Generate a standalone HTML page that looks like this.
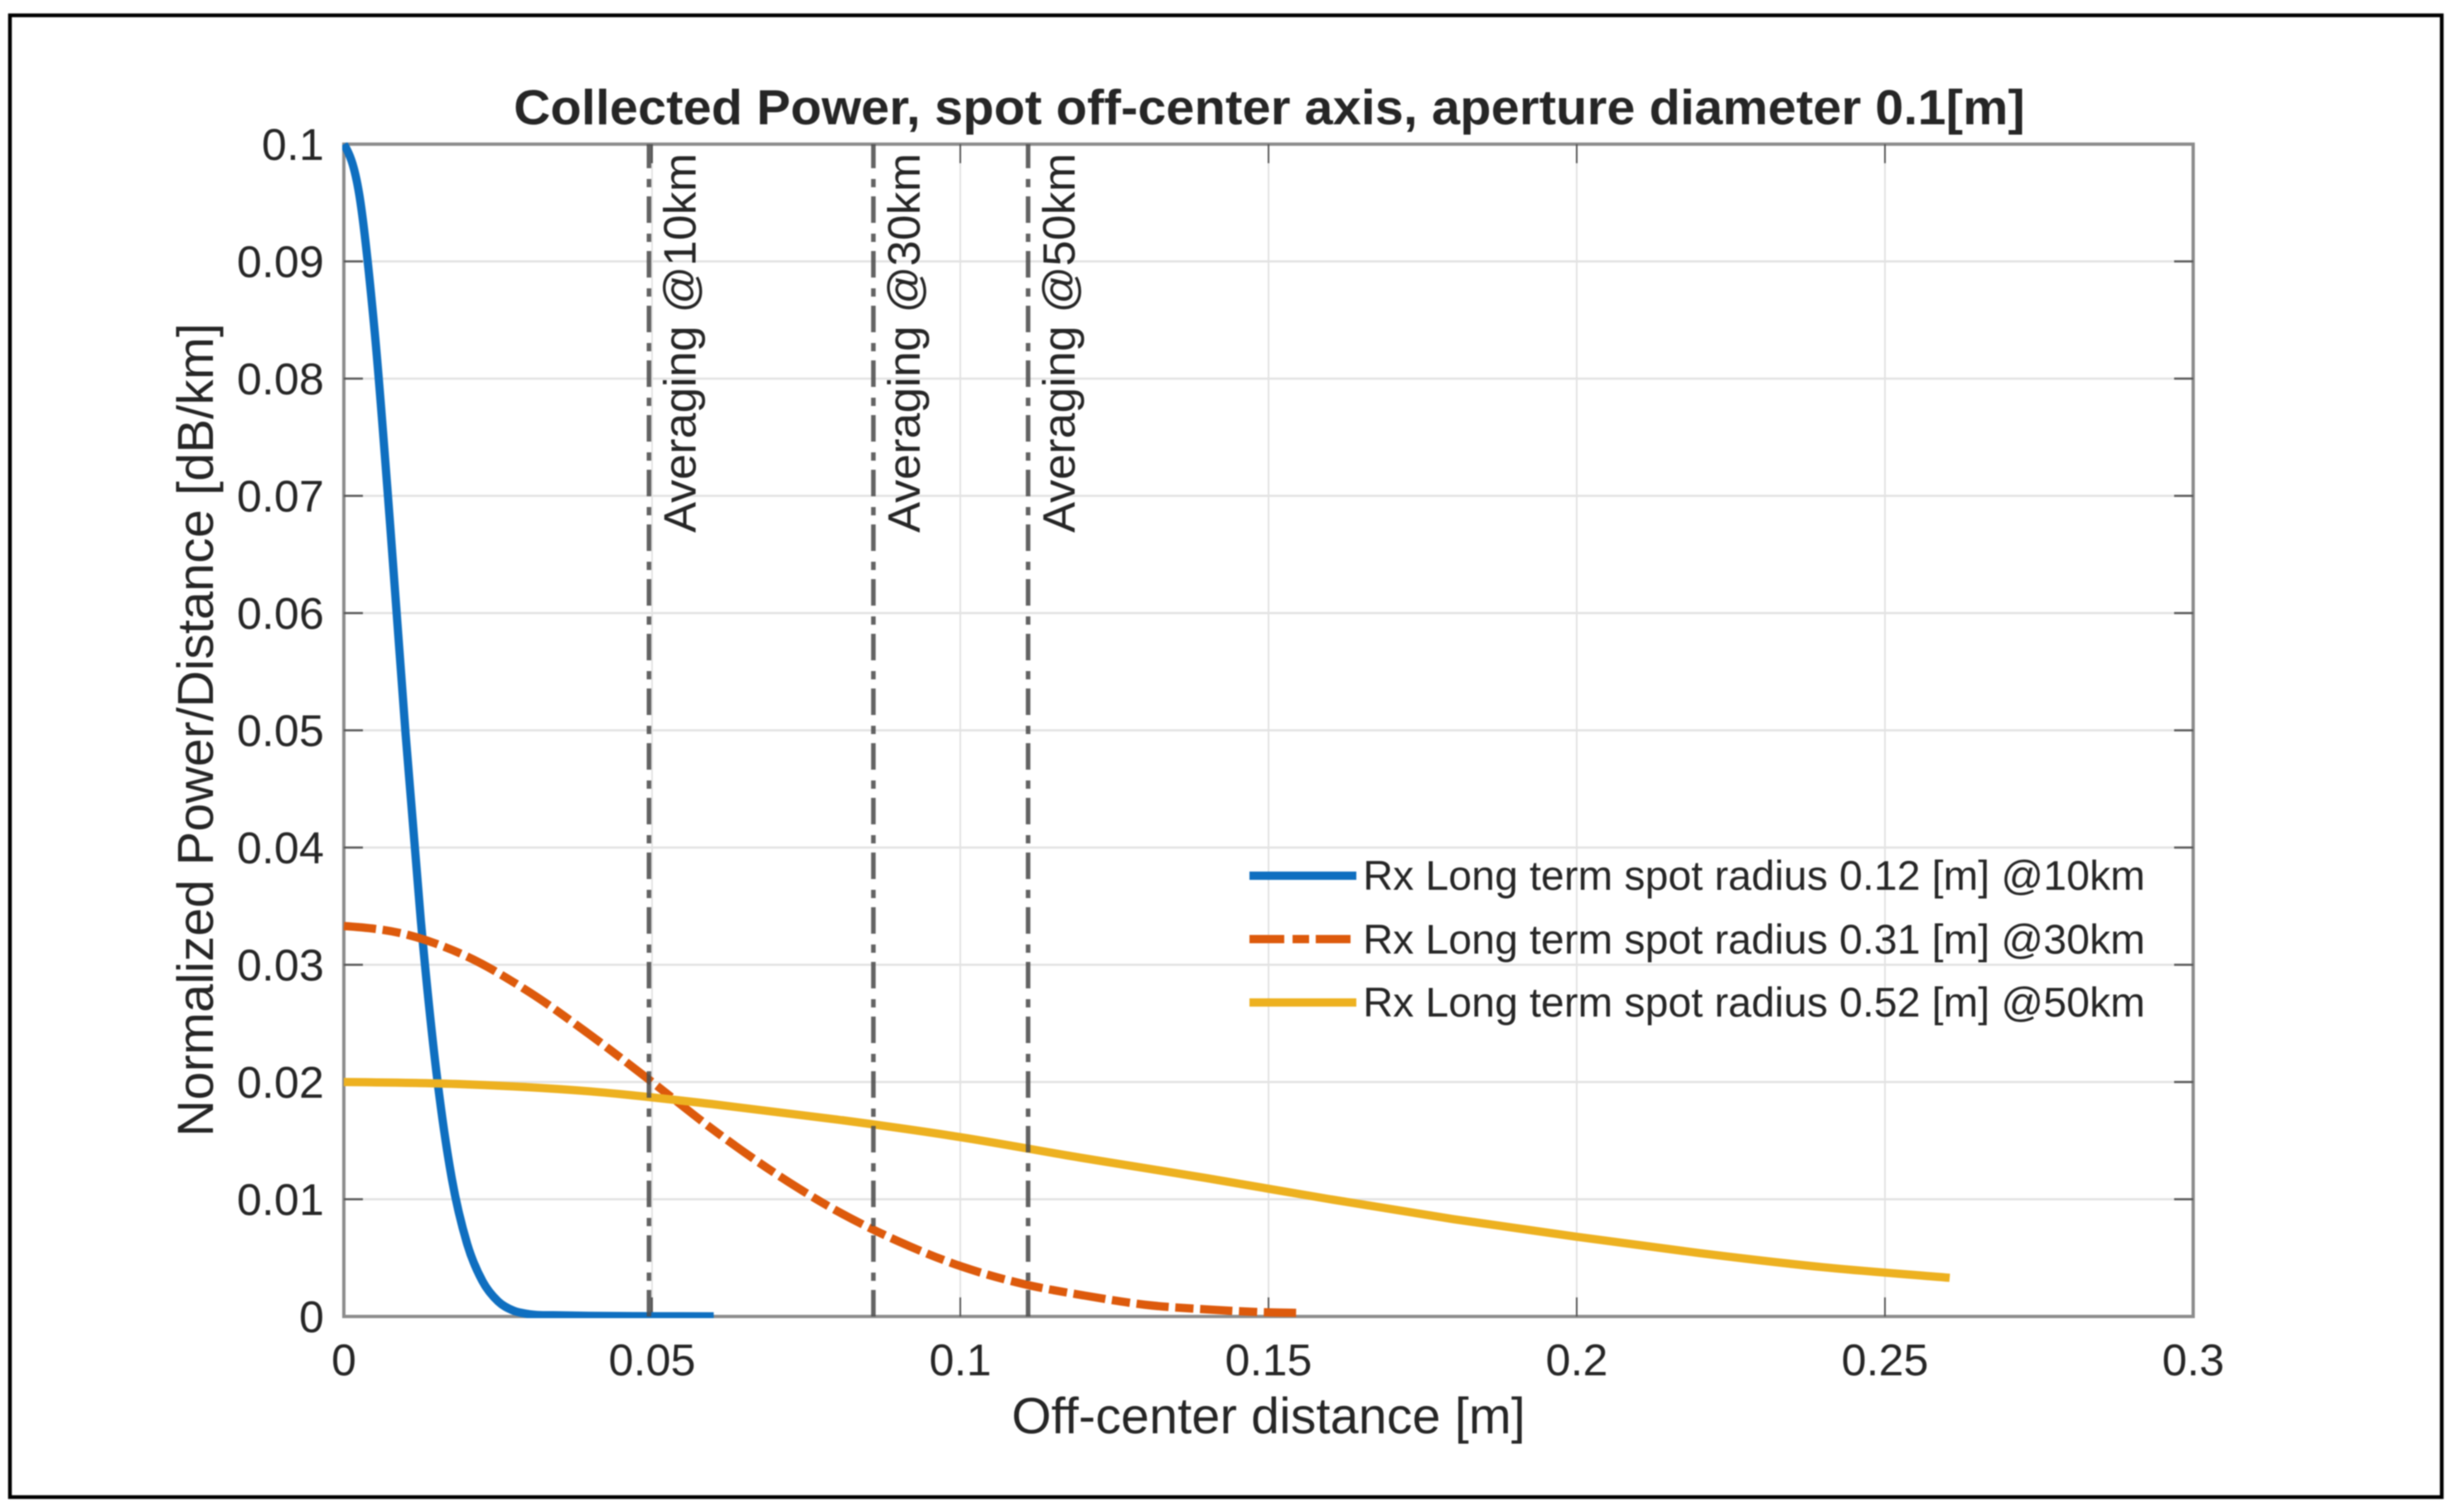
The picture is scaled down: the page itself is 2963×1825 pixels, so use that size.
<!DOCTYPE html>
<html lang="en">
<head>
<meta charset="utf-8">
<title>Collected Power, spot off-center axis</title>
<style>
html,body{margin:0;padding:0;background:#fff;width:2963px;height:1825px;overflow:hidden}
svg{display:block;font-family:"Liberation Sans",Arial,sans-serif;filter:blur(0.7px)}
text{fill:#262626}
</style>
</head>
<body>
<svg id="chart" xmlns="http://www.w3.org/2000/svg" width="2963" height="1825" viewBox="0 0 2963 1825">
  <defs>
    <clipPath id="plot-clip"><rect x="413" y="172" width="2236" height="1419"/></clipPath>
  </defs>
  <rect x="0" y="0" width="2963" height="1825" fill="#ffffff"/>
  <rect x="12" y="18.5" width="2935" height="1788.5" fill="none" stroke="#000000" stroke-width="4.5"/>
  <text x="620" y="150" font-size="59" font-weight="700" textLength="1824" lengthAdjust="spacingAndGlyphs">Collected Power, spot off-center axis, aperture diameter 0.1[m]</text>
  <g id="grid"></g>
  <rect x="415" y="174" width="2232" height="1415" fill="none" stroke="#8c8c8c" stroke-width="4"/>
  <g id="ticks"></g>
  <g id="tick-labels" font-size="54"></g>
  <text x="1221" y="1730" font-size="61" textLength="620" lengthAdjust="spacingAndGlyphs">Off-center distance [m]</text>
  <text transform="translate(257 1372) rotate(-90)" x="0" y="0" font-size="61" textLength="982" lengthAdjust="spacingAndGlyphs">Normalized Power/Distance [dB/km]</text>
  <g id="series" clip-path="url(#plot-clip)" fill="none"></g>
  <g id="markers"></g>
  <g font-size="50">
    <line x1="1508" y1="1057" x2="1637" y2="1057" stroke="#0f6fc0" stroke-width="10"/>
    <text x="1645" y="1074" textLength="944" lengthAdjust="spacingAndGlyphs">Rx Long term spot radius 0.12 [m] @10km</text>
    <line x1="1508" y1="1133.5" x2="1630" y2="1133.5" stroke="#dd5a0c" stroke-width="10" stroke-dasharray="42 10 20 8"/>
    <text x="1645" y="1151" textLength="944" lengthAdjust="spacingAndGlyphs">Rx Long term spot radius 0.31 [m] @30km</text>
    <line x1="1508" y1="1210" x2="1637" y2="1210" stroke="#edb120" stroke-width="10"/>
    <text x="1645" y="1227" textLength="944" lengthAdjust="spacingAndGlyphs">Rx Long term spot radius 0.52 [m] @50km</text>
  </g>
</svg>
<script>
const xTicks = [0, 0.05, 0.1, 0.15, 0.2, 0.25, 0.3];
const xTickLabels = ["0", "0.05", "0.1", "0.15", "0.2", "0.25", "0.3"];
const yTicks = [0, 0.01, 0.02, 0.03, 0.04, 0.05, 0.06, 0.07, 0.08, 0.09, 0.1];
const yTickLabels = ["0", "0.01", "0.02", "0.03", "0.04", "0.05", "0.06", "0.07", "0.08", "0.09", "0.1"];

const blueX = [0, 0.0025, 0.005, 0.0075, 0.01, 0.0125, 0.015, 0.0175, 0.02, 0.0225, 0.025, 0.0275, 0.03, 0.035, 0.04, 0.05, 0.06];
const blueY = [0.1, 0.0957, 0.084, 0.0676, 0.0498, 0.0337, 0.0209, 0.0118, 0.0062, 0.003, 0.0013, 0.0005, 0.0002, 0.0001, 0.00005, 0.00002, 0.00001];
const orangeX = [0, 0.01, 0.02, 0.03, 0.04, 0.05, 0.06, 0.07, 0.08, 0.09, 0.1, 0.11, 0.12, 0.13, 0.14, 0.15, 0.1555];
const orangeY = [0.0333, 0.0326, 0.0307, 0.0277, 0.024, 0.02, 0.0159, 0.0122, 0.009, 0.0064, 0.0043, 0.0028, 0.0018, 0.001, 0.0006, 0.00035, 0.0003];
const yellowX = [0, 0.02, 0.04, 0.06, 0.08, 0.1, 0.12, 0.14, 0.16, 0.18, 0.2, 0.22, 0.24, 0.2605];
const yellowY = [0.02, 0.0198, 0.0192, 0.0181, 0.0168, 0.0153, 0.0135, 0.0118, 0.01, 0.0083, 0.0068, 0.0054, 0.0042, 0.0033];

const averagingX = [0.0495, 0.0859, 0.111];
const averagingLabels = ["Averaging @10km", "Averaging @30km", "Averaging @50km"];

const SVG_NS = "http://www.w3.org/2000/svg";
const plot = { left: 415, right: 2647, top: 174, bottom: 1589 };
function xScale(v) { return plot.left + (v / 0.3) * (plot.right - plot.left); }
function yScale(v) { return plot.bottom - (v / 0.1) * (plot.bottom - plot.top); }
function make(tag, parent, attrs, txt) {
  const el = document.createElementNS(SVG_NS, tag);
  for (const k in attrs) el.setAttribute(k, attrs[k]);
  if (txt !== undefined) el.textContent = txt;
  parent.appendChild(el);
  return el;
}
function monotonePath(xs, ys) {
  const px = xs.map(xScale), py = ys.map(yScale), n = px.length;
  const d = [], m = new Array(n);
  for (let i = 0; i < n - 1; i++) d.push((py[i + 1] - py[i]) / (px[i + 1] - px[i]));
  m[0] = d[0] * 0.5; m[n - 1] = d[n - 2];
  for (let i = 1; i < n - 1; i++) {
    const h0 = px[i] - px[i - 1], h1 = px[i + 1] - px[i];
    m[i] = d[i - 1] * d[i] <= 0 ? 0 : (h1 * d[i - 1] + h0 * d[i]) / (h0 + h1);
  }
  let s = "M" + px[0].toFixed(2) + " " + py[0].toFixed(2);
  for (let i = 0; i < n - 1; i++) {
    const h = (px[i + 1] - px[i]) / 3;
    s += "C" + (px[i] + h).toFixed(2) + " " + (py[i] + m[i] * h).toFixed(2) + " " + (px[i + 1] - h).toFixed(2) + " " + (py[i + 1] - m[i + 1] * h).toFixed(2) + " " + px[i + 1].toFixed(2) + " " + py[i + 1].toFixed(2);
  }
  return s;
}

const grid = document.getElementById("grid");
const ticks = document.getElementById("ticks");
const labels = document.getElementById("tick-labels");

xTicks.forEach(function (v, i) {
  const x = xScale(v);
  if (i > 0 && i < xTicks.length - 1) {
    const g = make("line", grid, { x1: x, y1: plot.top, x2: x, y2: plot.bottom, stroke: "#e2e2e2", "stroke-width": 2 });
    
    
    const t1 = make("line", ticks, { x1: x, y1: plot.bottom, x2: x, y2: plot.bottom - 23, stroke: "#555555", "stroke-width": 2 });
    
    
    const t2 = make("line", ticks, { x1: x, y1: plot.top, x2: x, y2: plot.top + 23, stroke: "#555555", "stroke-width": 2 });
    
    
  }
  const l = make("text", labels, { x: x, y: 1660, "text-anchor": "middle" }, xTickLabels[i]);
  
  
});

yTicks.forEach(function (v, i) {
  const y = yScale(v);
  if (i > 0 && i < yTicks.length - 1) {
    const g = make("line", grid, { x1: plot.left, y1: y, x2: plot.right, y2: y, stroke: "#e2e2e2", "stroke-width": 2.5 });
    
    
    const t1 = make("line", ticks, { x1: plot.left, y1: y, x2: plot.left + 23, y2: y, stroke: "#555555", "stroke-width": 2.5 });
    
    
    const t2 = make("line", ticks, { x1: plot.right, y1: y, x2: plot.right - 23, y2: y, stroke: "#555555", "stroke-width": 2.5 });
    
    
  }
  const l = make("text", labels, { x: 391, y: y + 19, "text-anchor": "end" }, yTickLabels[i]);
  
  
});

const seriesGroup = document.getElementById("series");
const blueLine = make("path", seriesGroup, { d: monotonePath(blueX, blueY), stroke: "#0f6fc0", "stroke-width": 10, "stroke-linejoin": "round" });


const orangeLine = make("path", seriesGroup, { d: monotonePath(orangeX, orangeY), stroke: "#dd5a0c", "stroke-width": 10, "stroke-dasharray": "39 8 22 8" });


const yellowLine = make("path", seriesGroup, { d: monotonePath(yellowX, yellowY), stroke: "#edb120", "stroke-width": 10, "stroke-linejoin": "round" });



const markers = document.getElementById("markers");
averagingX.forEach(function (v, i) {
  const x = xScale(v);
  const ln = make("line", markers, { x1: x, y1: plot.top, x2: x, y2: plot.bottom, stroke: "#4d4d4d", "stroke-opacity": 0.88, "stroke-width": 5.5, "stroke-dasharray": "32 13 10 11", "stroke-dashoffset": 3 });
  
  
  const bx = x + 56;
  const t = make("text", markers, { transform: "translate(" + bx + " 643) rotate(-90)", x: 0, y: 0, "font-size": 55, textLength: 458, lengthAdjust: "spacingAndGlyphs" }, averagingLabels[i]);
  
  
});
</script>
</body>
</html>
